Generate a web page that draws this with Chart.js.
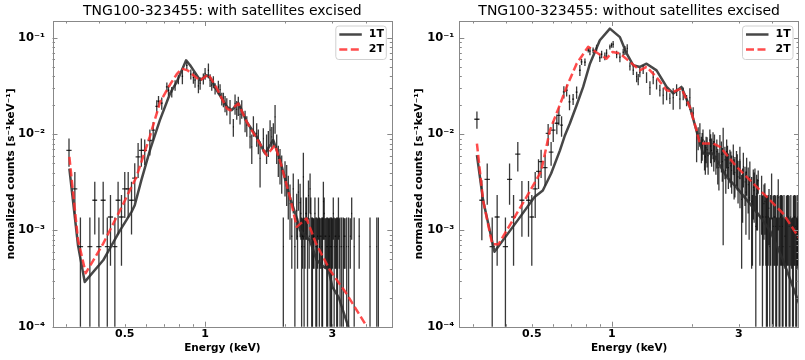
<!DOCTYPE html>
<html>
<head>
<meta charset="utf-8">
<script src="https://cdn.jsdelivr.net/npm/chart.js@4.4.0/dist/chart.umd.min.js"></script>
<style>
  body { margin: 0; background: #fff; }
  #wrap { position: relative; width: 805px; height: 360px; }
  canvas { position: absolute; top: 0; }
</style>
</head>
<body>
<div id="wrap">
  <canvas id="left" width="402" height="360" style="left:0"></canvas>
  <canvas id="right" width="403" height="360" style="left:402px"></canvas>
</div>
<script>
// ---- axis ticks ----
const xTickValues = [0.5, 1, 3];
const yTickValues = [1e-4, 1e-3, 1e-2, 1e-1];
const yTickLabels = ['10⁻⁴', '10⁻³', '10⁻²', '10⁻¹'];

// ---- left panel: with satellites excised ----
const withEnergy = [
  0.309, 0.325, 0.341, 0.370, 0.386, 0.400, 0.415, 0.430, 0.442, 0.459,
  0.472, 0.486, 0.500, 0.515, 0.530, 0.545, 0.561, 0.577, 0.594, 0.621,
  0.639, 0.659, 0.669, 0.688, 0.719, 0.729, 0.750, 0.772, 0.794, 0.822,
  0.854, 0.884, 0.904, 0.917, 0.944, 0.958, 0.985, 1.000, 1.029, 1.044,
  1.059, 1.074, 1.090, 1.121, 1.138, 1.155, 1.171, 1.188, 1.206, 1.240,
  1.276, 1.295, 1.314, 1.332, 1.352, 1.372, 1.412, 1.433, 1.474, 1.496,
  1.517, 1.561, 1.583, 1.607, 1.653, 1.700, 1.726, 1.752, 1.778, 1.802,
  1.829, 1.855, 1.881, 1.909, 1.937, 1.964, 1.993, 2.022, 2.050, 2.081,
  2.113, 2.140, 2.205, 2.236, 2.270, 2.300, 2.335, 2.369, 2.400, 2.440,
  2.474, 2.510, 2.545, 2.580, 2.620, 2.660, 2.697, 2.740, 2.775, 2.815,
  2.856, 2.900, 2.939, 2.980, 3.023, 3.070, 3.113, 3.160, 3.204, 3.296,
  3.345, 3.394, 3.543, 3.620, 3.780, 4.150, 4.400, 4.460
];
const withRate = [
  0.0068, 0.0027, 0.00068, 0.00068, 0.00206, 0.00068, 0.00206, 0.00068, 0.00138, 0.00068,
  0.00206, 0.00138, 0.0027, 0.0027, 0.00206, 0.0035, 0.0058, 0.0068, 0.0068, 0.0086,
  0.011, 0.0195, 0.022, 0.021, 0.031, 0.0286, 0.0275, 0.0323, 0.037, 0.040,
  0.052, 0.042, 0.0389, 0.0364, 0.0317, 0.034, 0.0378, 0.0427, 0.0462, 0.0364,
  0.0323, 0.035, 0.0298, 0.031, 0.0291, 0.0234, 0.023, 0.0209, 0.0196, 0.0177,
  0.0119, 0.0209, 0.0181, 0.020, 0.0161, 0.0185, 0.014, 0.0124, 0.0094, 0.0074,
  0.0124, 0.0102, 0.0087, 0.0056, 0.0090, 0.0074, 0.0083, 0.011, 0.0094, 0.0102,
  0.0151, 0.0074, 0.0056, 0.0050, 0.0042, 0.00068, 0.00375, 0.0033, 0.0025, 0.0019,
  0.00087, 0.0027, 0.0016, 0.0025, 0.00195, 0.00068, 0.0036, 0.00087, 0.0015, 0.0023,
  0.0027, 0.00068, 0.00087, 0.0015, 0.00068, 0.0015, 0.00087, 0.00068, 0.0020, 0.00087,
  0.00068, 0.00087, 0.00068, 0.00068, 0.0015, 0.00087, 0.00068, 0.0015, 0.00068, 0.00068,
  0.00087, 0.00068, 0.0015, 0.00068, 0.00087, 0.00068, 0.00068, 0.00068
];
const withErr = [
  0.0022, 0.00135, 0.00068, 0.00068, 0.00115, 0.00068, 0.00115, 0.00068, 0.00095, 0.00068,
  0.00115, 0.00095, 0.00135, 0.00135, 0.00115, 0.0015, 0.0023, 0.0022, 0.0020, 0.0026,
  0.0024, 0.003, 0.003, 0.003, 0.0035, 0.0035, 0.0035, 0.004, 0.004, 0.007,
  0.005, 0.005, 0.0055, 0.006, 0.005, 0.005, 0.005, 0.006, 0.008, 0.0055,
  0.004, 0.005, 0.004, 0.005, 0.004, 0.0035, 0.004, 0.004, 0.004, 0.005,
  0.0025, 0.005, 0.004, 0.0045, 0.0035, 0.004, 0.0035, 0.003, 0.0023, 0.0025,
  0.003, 0.0028, 0.0025, 0.0028, 0.0025, 0.0025, 0.0025, 0.003, 0.0025, 0.0028,
  0.005, 0.0025, 0.002, 0.002, 0.0018, 0.00068, 0.0015, 0.0015, 0.0012, 0.0011,
  0.00047, 0.0012, 0.0008, 0.0009, 0.0011, 0.00068, 0.0028, 0.00047, 0.0007, 0.0010,
  0.0012, 0.00068, 0.00047, 0.0007, 0.00068, 0.0007, 0.00047, 0.00068, 0.0012, 0.00047,
  0.00068, 0.00047, 0.00068, 0.00068, 0.0007, 0.00047, 0.00068, 0.0007, 0.00068, 0.00068,
  0.00047, 0.00068, 0.0007, 0.00068, 0.00047, 0.00068, 0.00068, 0.00068
];
const withHalfWidth = [
  0.007, 0.007, 0.008, 0.008, 0.008, 0.009, 0.009, 0.009, 0.010, 0.010,
  0.010, 0.010, 0.011, 0.011, 0.011, 0.012, 0.012, 0.012, 0.012, 0.012,
  0.010, 0.008, 0.006, 0.006, 0.006, 0.005, 0.005, 0.005, 0.005, 0.005,
  0.005, 0.005, 0.005, 0.005, 0.005, 0.005, 0.005, 0.005, 0.005, 0.005,
  0.005, 0.005, 0.005, 0.005, 0.005, 0.005, 0.005, 0.005, 0.005, 0.005,
  0.005, 0.005, 0.005, 0.005, 0.005, 0.005, 0.005, 0.005, 0.005, 0.005,
  0.005, 0.005, 0.005, 0.005, 0.005, 0.005, 0.005, 0.005, 0.005, 0.005,
  0.006, 0.006, 0.006, 0.006, 0.006, 0.006, 0.006, 0.006, 0.006, 0.006,
  0.010, 0.010, 0.010, 0.010, 0.010, 0.010, 0.010, 0.010, 0.010, 0.010,
  0.010, 0.010, 0.010, 0.010, 0.010, 0.010, 0.010, 0.010, 0.010, 0.010,
  0.010, 0.010, 0.010, 0.010, 0.010, 0.010, 0.010, 0.010, 0.010, 0.010,
  0.012, 0.012, 0.012, 0.012, 0.012, 0.012, 0.012, 0.012
];
// dense low-count tail above 2 keV (left panel)
const withTailEnergy = [
  2.170, 2.220, 2.285, 2.320, 2.350, 2.385, 2.420, 2.455, 2.490, 2.525,
  2.560, 2.600, 2.640, 2.680, 2.720, 2.755, 2.795, 2.835, 2.880, 2.920,
  2.960, 3.000, 3.045, 3.090, 3.135, 3.180, 3.250, 3.320, 3.450, 3.500
];
const withTailRate = [
  0.00068, 0.00087, 0.0015, 0.00087, 0.00068, 0.0015, 0.00068, 0.00087, 0.0015, 0.00068,
  0.00087, 0.00068, 0.00087, 0.00068, 0.00087, 0.00068, 0.0015, 0.00087, 0.00068, 0.00087,
  0.00068, 0.00087, 0.00068, 0.00087, 0.00068, 0.00087, 0.00068, 0.00087, 0.00068, 0.00087
];
const withTailErr = [
  0.00068, 0.00047, 0.0007, 0.00047, 0.00068, 0.0007, 0.00068, 0.00047, 0.0007, 0.00068,
  0.00047, 0.00068, 0.00047, 0.00068, 0.00047, 0.00068, 0.0007, 0.00047, 0.00068, 0.00047,
  0.00068, 0.00047, 0.00068, 0.00047, 0.00068, 0.00047, 0.00068, 0.00047, 0.00068, 0.00047
];
const withTailHalfWidth = [
  0.010, 0.010, 0.010, 0.010, 0.010, 0.010, 0.010, 0.010, 0.010, 0.010,
  0.010, 0.010, 0.010, 0.010, 0.010, 0.010, 0.010, 0.010, 0.010, 0.010,
  0.010, 0.010, 0.010, 0.010, 0.010, 0.010, 0.012, 0.012, 0.012, 0.012
];
const with1TEnergy = [0.31, 0.334, 0.354, 0.415, 0.48, 0.53, 0.545, 0.577, 0.621, 0.677, 0.739, 0.783, 0.849, 0.879, 0.904, 0.958, 1.015, 1.05, 1.106, 1.206, 1.259, 1.332, 1.433, 1.561, 1.677, 1.80, 1.91, 2.0, 2.08, 2.205, 2.27, 2.47, 2.62, 2.78, 2.90, 3.0, 3.17, 3.44, 3.6];
const with1TModel = [4.4e-3, 7.0e-4, 2.92e-4, 4.9e-4, 1.0e-3, 1.56e-3, 1.83e-3, 3.33e-3, 6.8e-3, 0.014, 0.0265, 0.0349, 0.0586, 0.052, 0.0463, 0.0364, 0.041, 0.038, 0.0286, 0.0193, 0.0178, 0.0211, 0.0134, 0.0094, 0.0063, 0.0087, 0.0054, 0.0033, 0.0022, 0.00135, 0.0010, 7.9e-4, 4.9e-4, 4.2e-4, 3.9e-4, 2.6e-4, 2.0e-4, 1.0e-4, 7.5e-5];
const with2TEnergy = [0.31, 0.334, 0.357, 0.415, 0.48, 0.553, 0.621, 0.678, 0.74, 0.783, 0.818, 0.86, 0.904, 0.958, 1.029, 1.106, 1.206, 1.24, 1.332, 1.433, 1.561, 1.70, 1.829, 1.937, 2.081, 2.205, 2.40, 2.60, 2.93, 3.39, 3.97];
const with2TModel = [5.8e-3, 8.0e-4, 3.6e-4, 7.3e-4, 1.62e-3, 3.6e-3, 9.5e-3, 0.0215, 0.033, 0.042, 0.048, 0.046, 0.041, 0.036, 0.042, 0.030, 0.0185, 0.0177, 0.0208, 0.0134, 0.009, 0.00605, 0.0077, 0.0046, 0.0022, 0.00109, 0.00133, 7.4e-4, 3.9e-4, 2.2e-4, 1.08e-4];

// ---- right panel: without satellites excised ----
const withoutEnergy = [
  0.311, 0.3245, 0.340, 0.355, 0.3705, 0.398, 0.4125, 0.427, 0.443, 0.459,
  0.486, 0.500, 0.515, 0.530, 0.542, 0.561, 0.576, 0.591, 0.602, 0.621,
  0.632, 0.647, 0.660, 0.676, 0.693, 0.715, 0.737, 0.758, 0.769, 0.792,
  0.815, 0.827, 0.850, 0.876, 0.901, 0.915, 0.941, 0.955, 0.983, 0.997,
  1.011, 1.042, 1.072, 1.103, 1.119, 1.142, 1.169, 1.203, 1.239, 1.256,
  1.274, 1.311, 1.350, 1.390, 1.430, 1.472, 1.515, 1.559, 1.606, 1.652,
  1.700, 1.751, 1.802, 1.854, 1.909, 1.964, 2.021, 2.082, 2.110, 2.142,
  2.170, 2.200, 2.230, 2.260, 2.300, 2.335, 2.370, 2.400, 2.430, 2.460,
  2.500, 2.547, 2.580, 2.620, 2.660, 2.700, 2.740, 2.777, 2.820, 2.860,
  2.900, 2.940, 2.980, 3.028, 3.074, 3.120, 3.165, 3.210, 3.253, 3.300,
  3.352, 3.400, 3.449, 3.500, 3.548, 3.654, 3.700, 3.760, 3.810, 3.868,
  3.920, 3.984, 4.040, 4.100, 4.160, 4.220, 4.280, 4.345, 4.400, 4.470,
  4.530, 4.600, 4.670, 4.740, 4.810, 4.875, 4.950, 5.000
];
const withoutRate = [
  0.0143, 0.00206, 0.0034, 0.00068, 0.00138, 0.00068, 0.0034, 0.00138, 0.0062, 0.00206,
  0.00206, 0.00138, 0.0027, 0.0041, 0.0052, 0.0045, 0.0102, 0.0065, 0.011, 0.013,
  0.0157, 0.0124, 0.0275, 0.0286, 0.0217, 0.0231, 0.0273, 0.0462, 0.0563, 0.056,
  0.0745, 0.073, 0.0745, 0.079, 0.0623, 0.0677, 0.0646, 0.0694, 0.0807, 0.084,
  0.086, 0.0677, 0.063, 0.071, 0.0745, 0.078, 0.051, 0.0462, 0.0396, 0.0373,
  0.044, 0.0473, 0.039, 0.0305, 0.039, 0.0332, 0.0286, 0.0254, 0.0265, 0.0236,
  0.024, 0.029, 0.0232, 0.0265, 0.0225, 0.024, 0.0166, 0.0081, 0.0093, 0.0102,
  0.0072, 0.0087, 0.0064, 0.0072, 0.0060, 0.0087, 0.0068, 0.0080, 0.0075, 0.0058,
  0.0050, 0.0074, 0.0062, 0.0062, 0.0054, 0.0066, 0.0045, 0.0050, 0.0042, 0.0058,
  0.0040, 0.0048, 0.0036, 0.0054, 0.0021, 0.0046, 0.0032, 0.0040, 0.0030, 0.0036,
  0.0020, 0.0028, 0.0030, 0.0024, 0.0033, 0.0023, 0.00138, 0.0020, 0.0011, 0.00138,
  0.00068, 0.0026, 0.0011, 0.00138, 0.00068, 0.0022, 0.0011, 0.00138, 0.00068, 0.00087,
  0.0011, 0.00138, 0.00068, 0.00087, 0.0011, 0.00138, 0.00068, 0.00087
];
const withoutErr = [
  0.0029, 0.00127, 0.00155, 0.00068, 0.00095, 0.00068, 0.00155, 0.00095, 0.0021, 0.0012,
  0.0012, 0.00095, 0.00135, 0.0014, 0.0017, 0.0016, 0.0026, 0.0018, 0.0027, 0.003,
  0.0033, 0.003, 0.004, 0.004, 0.004, 0.003, 0.004, 0.006, 0.004, 0.005,
  0.004, 0.007, 0.005, 0.006, 0.006, 0.006, 0.006, 0.007, 0.005, 0.005,
  0.007, 0.006, 0.007, 0.006, 0.008, 0.008, 0.005, 0.005, 0.005, 0.005,
  0.005, 0.005, 0.005, 0.005, 0.006, 0.004, 0.004, 0.005, 0.004, 0.003,
  0.006, 0.004, 0.005, 0.004, 0.003, 0.006, 0.0025, 0.003, 0.0025, 0.0028,
  0.0022, 0.0025, 0.0022, 0.0022, 0.0022, 0.0025, 0.0022, 0.0025, 0.0024, 0.002,
  0.002, 0.0024, 0.0022, 0.0055, 0.002, 0.0022, 0.0018, 0.0019, 0.0018, 0.002,
  0.0018, 0.0019, 0.0017, 0.002, 0.0017, 0.0018, 0.0014, 0.0017, 0.0015, 0.0016,
  0.0016, 0.0015, 0.0014, 0.0014, 0.0009, 0.0014, 0.00095, 0.0011, 0.0012, 0.00095,
  0.00068, 0.0013, 0.0012, 0.00095, 0.00068, 0.0012, 0.0012, 0.00095, 0.00068, 0.00047,
  0.0012, 0.00095, 0.00068, 0.00047, 0.0012, 0.00095, 0.00068, 0.00047
];
const withoutHalfWidth = [
  0.007, 0.007, 0.008, 0.008, 0.008, 0.009, 0.009, 0.009, 0.010, 0.010,
  0.010, 0.010, 0.011, 0.011, 0.011, 0.012, 0.012, 0.012, 0.012, 0.012,
  0.010, 0.008, 0.006, 0.006, 0.006, 0.006, 0.006, 0.006, 0.006, 0.006,
  0.005, 0.005, 0.005, 0.005, 0.005, 0.005, 0.005, 0.005, 0.005, 0.005,
  0.005, 0.005, 0.005, 0.005, 0.005, 0.005, 0.005, 0.005, 0.005, 0.005,
  0.005, 0.005, 0.005, 0.005, 0.005, 0.005, 0.005, 0.005, 0.005, 0.005,
  0.006, 0.006, 0.006, 0.006, 0.006, 0.006, 0.006, 0.006, 0.006, 0.006,
  0.010, 0.010, 0.010, 0.010, 0.010, 0.010, 0.010, 0.010, 0.010, 0.010,
  0.010, 0.010, 0.010, 0.010, 0.010, 0.010, 0.010, 0.010, 0.010, 0.010,
  0.010, 0.010, 0.010, 0.010, 0.010, 0.010, 0.010, 0.010, 0.010, 0.010,
  0.012, 0.012, 0.012, 0.012, 0.012, 0.012, 0.012, 0.012, 0.012, 0.012,
  0.012, 0.012, 0.012, 0.012, 0.012, 0.012, 0.012, 0.012, 0.012, 0.012,
  0.012, 0.012, 0.012, 0.012, 0.012, 0.012, 0.012, 0.012
];
// dense tail above 2 keV (right panel)
const withoutTailEnergy = [
  2.185, 2.245, 2.280, 2.350, 2.415, 2.480, 2.525, 2.600, 2.680, 2.720,
  2.800, 2.880, 2.960, 3.030, 3.100, 3.190, 3.280, 3.375, 3.425, 3.475,
  3.525, 3.600, 3.680, 3.730, 3.790, 3.840, 3.895, 3.950, 4.010, 4.070,
  4.130, 4.190, 4.250, 4.310, 4.370, 4.435, 4.500, 4.565, 4.635, 4.705,
  4.775, 4.845, 4.910, 4.975
];
const withoutTailRate = [
  0.0078, 0.0058, 0.0069, 0.0075, 0.0063, 0.0066, 0.0045, 0.0052, 0.0042, 0.0056,
  0.0047, 0.0038, 0.0044, 0.0035, 0.0028, 0.0025, 0.0022, 0.00138, 0.0026, 0.0011,
  0.0022, 0.00138, 0.0011, 0.0019, 0.00138, 0.0011, 0.0017, 0.00138, 0.00068, 0.00138,
  0.0011, 0.00138, 0.00068, 0.00138, 0.0011, 0.00138, 0.00068, 0.00138, 0.0011, 0.00138,
  0.00068, 0.00138, 0.0011, 0.00138
];
const withoutTailErr = [
  0.0025, 0.002, 0.0024, 0.0025, 0.0022, 0.0022, 0.0019, 0.002, 0.0018, 0.002,
  0.0019, 0.0017, 0.0018, 0.0018, 0.0016, 0.0016, 0.0014, 0.00095, 0.0014, 0.0012,
  0.0012, 0.00095, 0.0012, 0.0011, 0.00095, 0.0012, 0.0010, 0.00095, 0.00068, 0.00095,
  0.0012, 0.00095, 0.00068, 0.00095, 0.0012, 0.00095, 0.00068, 0.00095, 0.0012, 0.00095,
  0.00068, 0.00095, 0.0012, 0.00095
];
const withoutTailHalfWidth = [
  0.010, 0.010, 0.010, 0.010, 0.010, 0.010, 0.010, 0.010, 0.010, 0.010,
  0.010, 0.010, 0.010, 0.010, 0.010, 0.010, 0.010, 0.012, 0.012, 0.012,
  0.012, 0.012, 0.012, 0.012, 0.012, 0.012, 0.012, 0.012, 0.012, 0.012,
  0.012, 0.012, 0.012, 0.012, 0.012, 0.012, 0.012, 0.012, 0.012, 0.012,
  0.012, 0.012, 0.012, 0.012
];
const without1TEnergy = [0.311, 0.328, 0.362, 0.443, 0.512, 0.55, 0.591, 0.638, 0.664, 0.695, 0.737, 0.78, 0.827, 0.901, 0.983, 1.072, 1.136, 1.203, 1.274, 1.35, 1.472, 1.606, 1.70, 1.826, 1.964, 2.11, 2.2, 2.40, 2.70, 2.94, 3.3, 3.6, 3.93, 4.4, 5.05];
const without1TModel = [6.05e-3, 2.06e-3, 6.0e-4, 1.28e-3, 2.23e-3, 2.6e-3, 3.9e-3, 6.8e-3, 0.0095, 0.0129, 0.020, 0.031, 0.054, 0.0946, 0.125, 0.102, 0.069, 0.052, 0.050, 0.054, 0.046, 0.031, 0.0265, 0.031, 0.0192, 0.0094, 0.0063, 0.0063, 0.0036, 0.0028, 0.0019, 0.0014, 0.0010, 4.9e-4, 1.75e-4];
const without2TEnergy = [0.311, 0.328, 0.355, 0.375, 0.47, 0.542, 0.585, 0.632, 0.676, 0.737, 0.815, 0.888, 0.955, 1.006, 1.072, 1.169, 1.274, 1.35, 1.472, 1.606, 1.70, 1.826, 1.963, 2.08, 2.14, 2.40, 2.55, 2.94, 3.39, 3.93, 4.4, 5.05];
const without2TModel = [8.0e-3, 2.06e-3, 7.2e-4, 7.2e-4, 2.06e-3, 4.1e-3, 0.011, 0.019, 0.031, 0.054, 0.081, 0.069, 0.061, 0.0716, 0.069, 0.0564, 0.046, 0.050, 0.039, 0.0286, 0.0275, 0.0299, 0.0192, 0.011, 0.008, 0.008, 0.0074, 0.0046, 0.0031, 0.00206, 0.0015, 8.4e-4];

const FONT = '"DejaVu Sans", sans-serif';
const COLOR_1T = 'rgba(45,45,45,0.88)';
const COLOR_2T = 'rgba(255,45,45,0.85)';
const DASH_2T = [8, 3.5];

function curve(energy, model) {
  return energy.map((e, i) => ({ x: e, y: model[i] }));
}

// error bars as one broken line: vertical bar, gap, horizontal bar, gap
function errorBars(energy, rate, err, half) {
  const pts = [];
  energy.forEach((e, i) => {
    pts.push({ x: e, y: Math.max(rate[i] - err[i], 1e-7) });
    pts.push({ x: e, y: rate[i] + err[i] });
    pts.push({ x: e, y: null });
    pts.push({ x: e - half[i], y: rate[i] });
    pts.push({ x: e + half[i], y: rate[i] });
    pts.push({ x: e + half[i], y: null });
  });
  return pts;
}

const panelDecor = {
  id: 'panelDecor',
  afterDatasetsDraw(chart, args, opts) {
    const { ctx, chartArea: a } = chart;
    const xs = chart.scales.x, ys = chart.scales.y;
    ctx.save();
    ctx.setLineDash([]);
    ctx.strokeStyle = '#888';
    ctx.lineWidth = 1;
    ctx.beginPath();
    for (let d = -4; d <= -1; d++) {
      for (let m = 1; m <= 9; m++) {
        const v = m * Math.pow(10, d);
        if (v > ys.max) continue;
        const py = Math.round(ys.getPixelForValue(v)) + 0.5;
        const len = m === 1 ? 5 : 2.5;
        ctx.moveTo(a.left, py); ctx.lineTo(a.left + len, py);
        ctx.moveTo(a.right, py); ctx.lineTo(a.right - len, py);
      }
    }
    for (let d = -1; d <= 0; d++) {
      for (let m = 1; m <= 9; m++) {
        const v = m * Math.pow(10, d);
        if (v < xs.min || v > xs.max) continue;
        const px = Math.round(xs.getPixelForValue(v)) + 0.5;
        const len = m === 1 ? 5 : 2.5;
        ctx.moveTo(px, a.bottom); ctx.lineTo(px, a.bottom - len);
        ctx.moveTo(px, a.top); ctx.lineTo(px, a.top + len);
      }
    }
    ctx.stroke();
    ctx.strokeRect(Math.round(a.left) + 0.5, Math.round(a.top) + 0.5,
      Math.round(a.right - a.left) - 1, Math.round(a.bottom - a.top));

    // title
    ctx.fillStyle = '#000';
    ctx.font = '14px ' + FONT;
    ctx.textAlign = 'center';
    ctx.textBaseline = 'middle';
    ctx.fillText(opts.title, (a.left + a.right) / 2, 11.5);

    // legend
    const bx = a.right - 56.5, by = a.top + 5, bw = 50.5, bh = 33.5;
    ctx.beginPath();
    if (ctx.roundRect) ctx.roundRect(bx, by, bw, bh, 3); else ctx.rect(bx, by, bw, bh);
    ctx.fillStyle = 'rgba(255,255,255,0.85)';
    ctx.fill();
    ctx.strokeStyle = '#d0d0d0';
    ctx.stroke();
    const entries = [
      { label: '1T', color: COLOR_1T, dash: [] },
      { label: '2T', color: COLOR_2T, dash: DASH_2T }
    ];
    entries.forEach((it, i) => {
      const ly = by + 8.5 + i * 15;
      ctx.beginPath();
      ctx.setLineDash(it.dash);
      ctx.strokeStyle = it.color;
      ctx.lineWidth = 2.5;
      ctx.moveTo(bx + 3.5, ly);
      ctx.lineTo(bx + 26, ly);
      ctx.stroke();
      ctx.setLineDash([]);
      ctx.fillStyle = '#000';
      ctx.font = 'bold 11px ' + FONT;
      ctx.textAlign = 'left';
      ctx.fillText(it.label, bx + 33, ly);
    });
    ctx.restore();
  }
};

function makePanel(id, cfg) {
  const bars = errorBars(cfg.energy, cfg.rate, cfg.err, cfg.half)
    .concat(errorBars(cfg.tailEnergy, cfg.tailRate, cfg.tailErr, cfg.tailHalf));
  new Chart(document.getElementById(id), {
    type: 'scatter',
    data: {
      datasets: [
        {
          label: '2T', data: curve(cfg.e2, cfg.m2), showLine: true,
          borderColor: COLOR_2T, borderWidth: 2.5, borderDash: DASH_2T,
          pointRadius: 0, borderJoinStyle: 'round'
        },
        {
          label: '1T', data: curve(cfg.e1, cfg.m1), showLine: true,
          borderColor: COLOR_1T, borderWidth: 2.5,
          pointRadius: 0, borderJoinStyle: 'round'
        },
        {
          label: 'data', data: bars,
          showLine: true, spanGaps: false, pointRadius: 0,
          borderColor: 'rgba(0,0,0,0.78)', borderWidth: 1.3,
          segment: { borderColor: () => undefined }
        }
      ]
    },
    options: {
      responsive: false,
      animation: false,
      layout: { padding: { top: 21, right: cfg.padRight, left: 0, bottom: 0 } },
      plugins: {
        legend: { display: false },
        tooltip: { enabled: false },
        panelDecor: { title: cfg.title }
      },
      scales: {
        x: {
          type: 'logarithmic', min: cfg.xMin, max: cfg.xMax,
          grid: { display: false, drawTicks: false }, border: { display: false },
          afterBuildTicks: s => { s.ticks = xTickValues.map(v => ({ value: v })); },
          afterFit: s => { s.height = 33.3; },
          ticks: {
            callback: v => String(v), autoSkip: false, maxRotation: 0,
            padding: 1, color: '#000', font: { family: FONT, size: 11, weight: 'bold' }
          },
          title: {
            display: true, text: 'Energy (keV)', color: '#000',
            font: { family: FONT, size: 10.5, weight: 'bold' },
            padding: { top: 0, bottom: 5.4 }
          }
        },
        y: {
          type: 'logarithmic', min: 1e-4, max: 0.15,
          grid: { display: false, drawTicks: false }, border: { display: false },
          afterBuildTicks: s => { s.ticks = yTickValues.map(v => ({ value: v })); },
          afterFit: s => { s.width = cfg.yWidth; },
          ticks: {
            callback: v => yTickLabels[yTickValues.indexOf(v)],
            padding: cfg.yLabelPad, color: '#000',
            font: { family: FONT, size: 11.5, weight: 'bold' }
          },
          title: {
            display: true, text: 'normalized counts [s⁻¹keV⁻¹]', color: '#000',
            font: { family: FONT, size: 10.5, weight: 'bold' },
            padding: { top: cfg.yTitlePad, bottom: 0 }
          }
        }
      }
    },
    plugins: [panelDecor]
  });
}

makePanel('left', {
  title: 'TNG100-323455: with satellites excised',
  energy: withEnergy, rate: withRate, err: withErr, half: withHalfWidth,
  tailEnergy: withTailEnergy, tailRate: withTailRate, tailErr: withTailErr, tailHalf: withTailHalfWidth,
  e1: with1TEnergy, m1: with1TModel, e2: with2TEnergy, m2: with2TModel,
  xMin: 0.268, xMax: 5.03, yWidth: 52.5, padRight: 9.7, yLabelPad: 7.5, yTitlePad: 5.4
});

makePanel('right', {
  title: 'TNG100-323455: without satellites excised',
  energy: withoutEnergy, rate: withoutRate, err: withoutErr, half: withoutHalfWidth,
  tailEnergy: withoutTailEnergy, tailRate: withoutTailRate, tailErr: withoutTailErr, tailHalf: withoutTailHalfWidth,
  e1: without1TEnergy, m1: without1TModel, e2: without2TEnergy, m2: without2TModel,
  xMin: 0.267, xMax: 5.05, yWidth: 57.3, padRight: 6, yLabelPad: 5, yTitlePad: 10.7
});
</script>
</body>
</html>
